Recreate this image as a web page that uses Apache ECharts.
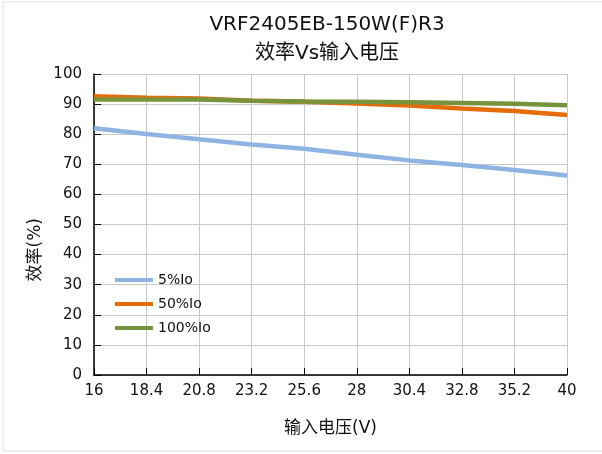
<!DOCTYPE html>
<html>
<head>
<meta charset="utf-8">
<script src="https://cdn.jsdelivr.net/npm/echarts@6/dist/echarts.min.js"></script>
<style>
  html, body { margin: 0; padding: 0; background: #fff; }
  #chart { width: 602px; height: 454px; }
</style>
</head>
<body>
<div id="chart"></div>
<script>
const voltages = ["16", "18.4", "20.8", "23.2", "25.6", "28", "30.4", "32.8", "35.2", "40"];
const seriesNames = ["5%Io", "50%Io", "100%Io"];
const eff5 = [82.0, 80.1, 78.3, 76.6, 75.2, 73.2, 71.3, 69.8, 68.1, 66.3];
const eff50 = [92.6, 92.1, 91.9, 91.1, 90.8, 90.2, 89.5, 88.5, 87.7, 86.4];
const eff100 = [91.5, 91.5, 91.5, 91.1, 90.9, 90.8, 90.6, 90.4, 90.1, 89.6];
const colors = ["#8eb4e3", "#e46c0a", "#77933c"];

const font = "'DejaVu Sans', 'Noto Sans CJK SC', sans-serif";
const chart = echarts.init(document.getElementById("chart"));

const lineSeries = [eff5, eff50, eff100].map((d, i) => ({
  name: seriesNames[i],
  type: "line",
  data: d,
  symbol: "none",
  lineStyle: { width: 4.5, color: colors[i] },
  itemStyle: { color: colors[i] },
  z: i === 2 ? 4 : 3,
}));

chart.setOption({
  backgroundColor: "#fff",
  animation: false,
  title: {
    text: "VRF2405EB-150W(F)R3\n效率Vs输入电压",
    left: 322,
    textAlign: "center",
    top: 5,
    textStyle: {
      fontFamily: font,
      fontSize: 20,
      fontWeight: "normal",
      color: "#111",
      lineHeight: 29,
    },
  },
  legend: {
    orient: "vertical",
    left: 110,
    top: 268,
    itemWidth: 38,
    itemHeight: 4,
    itemGap: 10,
    icon: "rect",
    textStyle: { fontFamily: font, fontSize: 14, color: "#111" },
    data: seriesNames,
  },
  grid: { left: 94, right: 35, top: 74, bottom: 79, containLabel: false },
  xAxis: {
    type: "category",
    data: voltages,
    boundaryGap: false,
    name: "输入电压(V)",
    nameLocation: "middle",
    nameGap: 45,
    nameTextStyle: { fontFamily: font, fontSize: 17, color: "#111" },
    axisLine: { lineStyle: { color: "#000", width: 1.5 } },
    axisTick: { inside: true, length: 7, lineStyle: { color: "#000" } },
    axisLabel: { fontFamily: font, fontSize: 15, color: "#111", margin: 9 },
    splitLine: { show: true, lineStyle: { color: "#c8c8c8", width: 1 } },
  },
  yAxis: {
    type: "value",
    min: 0,
    max: 100,
    interval: 10,
    axisLine: { show: true, lineStyle: { color: "#000", width: 1.5 } },
    axisTick: { show: true, inside: true, length: 7, lineStyle: { color: "#000" } },
    axisLabel: { fontFamily: font, fontSize: 15, color: "#111", margin: 12 },
    splitLine: { show: true, lineStyle: { color: "#c8c8c8", width: 1 } },
  },
  graphic: [
    {
      type: "text",
      left: 27,
      top: 218,
      rotation: Math.PI / 2,
      style: {
        text: "效率(%)",
        font: "17px " + font,
        fill: "#111",
      },
    },
    {
      type: "rect",
      shape: { x: 3, y: 2, width: 640, height: 449 },
      style: { fill: "none", stroke: "#e0e0e0", lineWidth: 1 },
      silent: true,
    },
  ],
  series: lineSeries,
});
</script>
</body>
</html>
